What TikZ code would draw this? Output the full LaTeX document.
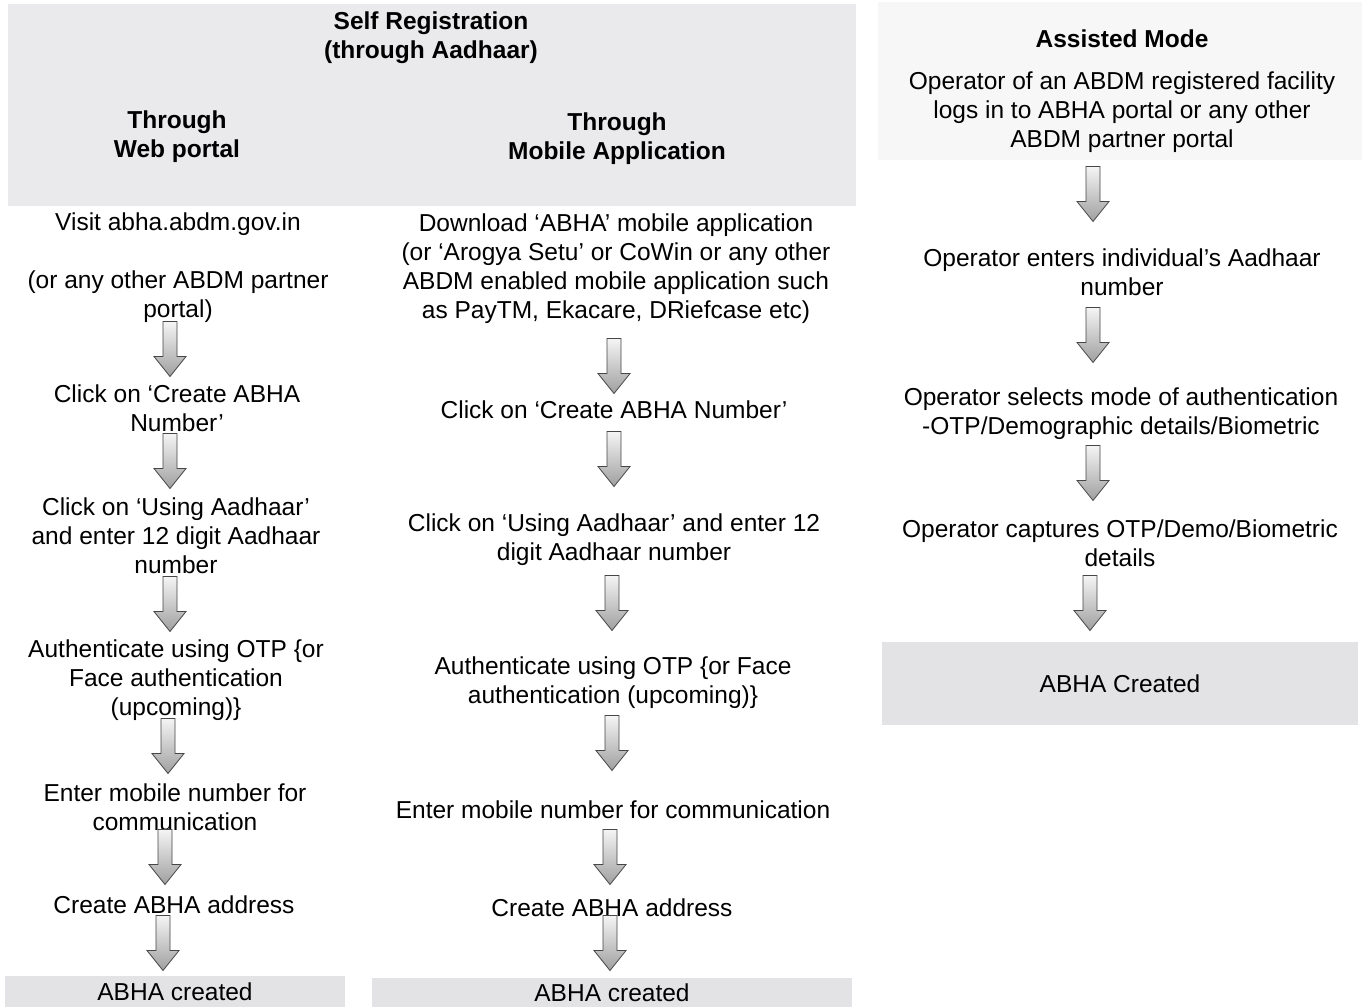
\documentclass[tikz,border=0pt]{standalone}
\usepackage{fontspec}
\setmainfont{Liberation Sans}
\definecolor{hdrgray}{HTML}{EAEAED}
\definecolor{faintgray}{HTML}{F7F7F8}
\definecolor{boxgray}{HTML}{E3E3E6}
\tikzset{
  txt/.style={align=center, inner sep=0pt, font=\fontsize{24.5}{29}\selectfont},
  hdr/.style={txt, font=\fontsize{24.5}{29}\selectfont\bfseries},
  endbox/.style={txt, fill=boxgray, draw=none},
  arrowline/.style={draw=gray!55!black, line width=0.8pt, line join=miter,
    top color=gray!8, bottom color=gray!75},
  darr/.pic={
    \path[arrowline] (-7,-27.5) -- (7,-27.5) -- (7,7.5) -- (16,7.5) -- (0,27.5)
      -- (-16,7.5) -- (-7,7.5) -- cycle;
  }
}
\begin{document}
\begin{tikzpicture}[x=1pt, y=-1pt]
\useasboundingbox (0,0) rectangle (1364,1006);
\fill[white] (0,0) rectangle (1364,1006);
% background bands
\fill[hdrgray] (8,4) rectangle (856,206);
\fill[faintgray] (878,2) rectangle (1362,160);

% headers
\node[hdr] (self) at (431,38) {Self Registration\\(through Aadhaar)};
\node[hdr] (web) at (177,137) {Through\\Web portal};
\node[hdr] (mob) at (617,139) {Through\\Mobile Application};
\node[hdr] (asst) at (1122,39) {Assisted Mode};

% column 1: web portal
\node[txt] (w1) at (178,268) {Visit abha.abdm.gov.in\\ \mbox{}\\(or any other ABDM partner\\portal)};
\node[txt] (w2) at (177,408) {Click on ‘Create ABHA\\Number’};
\node[txt] (w3) at (176,536) {Click on ‘Using Aadhaar’\\and enter 12 digit Aadhaar\\number};
\node[txt] (w4) at (176,680) {Authenticate using OTP \{or\\Face authentication\\(upcoming)\}};
\node[txt] (w5) at (175,807) {Enter mobile number for\\communication};
\node[txt] (w6) at (174,905) {Create ABHA address};
\node[endbox, minimum width=340pt, minimum height=32pt] (w7) at (175,992) {ABHA created};

\pic (wa1) at (170,349) {darr};
\pic (wa2) at (170,461) {darr};
\pic (wa3) at (170,604) {darr};
\pic (wa4) at (168,746) {darr};
\pic (wa5) at (165,857) {darr};
\pic (wa6) at (163,943) {darr};

% column 2: mobile application
\node[txt] (m1) at (616,269) {Download ‘ABHA’ mobile application\\(or ‘Arogya Setu’ or CoWin or any other\\ABDM enabled mobile application such\\as PayTM, Ekacare, DRiefcase etc)};
\node[txt] (m2) at (614,410) {Click on ‘Create ABHA Number’};
\node[txt] (m3) at (614,540) {Click on ‘Using Aadhaar’ and enter 12\\digit Aadhaar number};
\node[txt] (m4) at (613,683) {Authenticate using OTP \{or Face\\authentication (upcoming)\}};
\node[txt] (m5) at (613,810) {Enter mobile number for communication};
\node[txt] (m6) at (612,908) {Create ABHA address};
\node[endbox, minimum width=480pt, minimum height=30pt] (m7) at (612,993) {ABHA created};

\pic (ma1) at (614,366) {darr};
\pic (ma2) at (614,459) {darr};
\pic (ma3) at (612,603) {darr};
\pic (ma4) at (612,743) {darr};
\pic (ma5) at (610,857) {darr};
\pic (ma6) at (610,943) {darr};

% column 3: assisted mode
\node[txt] (a1) at (1122,112) {Operator of an ABDM registered facility\\logs in to ABHA portal or any other\\ABDM partner portal};
\node[txt] (a2) at (1122,272) {Operator enters individual’s Aadhaar\\number};
\node[txt] (a3) at (1121,414) {Operator selects mode of authentication\\-OTP/Demographic details/Biometric};
\node[txt] (a4) at (1120,543) {Operator captures OTP/Demo/Biometric\\details};
\node[endbox, minimum width=476pt, minimum height=83pt] (a5) at (1120,683.5) {ABHA Created};

\pic (aa1) at (1093,194) {darr};
\pic (aa2) at (1093,335) {darr};
\pic (aa3) at (1093,473) {darr};
\pic (aa4) at (1090,603) {darr};
\end{tikzpicture}
\end{document}
